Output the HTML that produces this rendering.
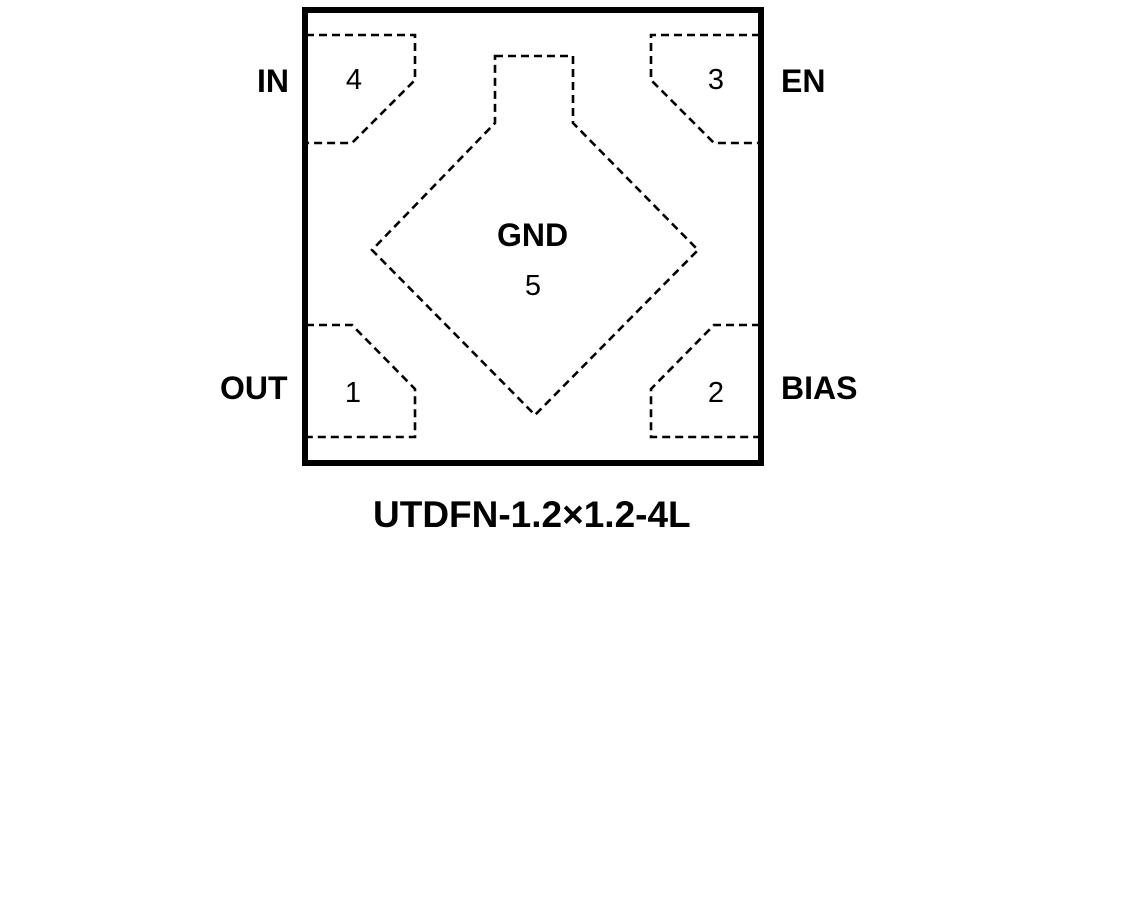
<!DOCTYPE html>
<html><head><style>html,body{margin:0;padding:0;background:#fff;}</style></head>
<body>
<svg width="1132" height="916" xmlns="http://www.w3.org/2000/svg" font-family="Liberation Sans, Arial, sans-serif">
<rect x="0" y="0" width="1132" height="916" fill="#fff"/>
<g fill="none" stroke="#000" stroke-width="2.6" stroke-dasharray="8,5">
<polyline points="306,35 415,35 415,80 352,143 306,143"/>
<polyline points="760,35 651,35 651,80 714,143 760,143"/>
<polyline points="306,325 352,325 415,389 415,437 306,437"/>
<polyline points="760,325 714,325 651,389 651,437 760,437"/>
<polygon points="495,56 573,56 573,123 698,250 535,415 372,250 495,123"/>
</g>
<rect x="305" y="10" width="456" height="453" fill="none" stroke="#000" stroke-width="6"/>
<g font-size="29" text-anchor="middle">
<text x="354" y="89">4</text>
<text x="716" y="89">3</text>
<text x="353" y="402">1</text>
<text x="716" y="402">2</text>
<text x="533" y="295">5</text>
</g>
<g font-size="32" font-weight="bold">
<text x="497" y="246">GND</text>
<text x="257" y="92">IN</text>
<text x="781" y="92">EN</text>
<text x="220" y="399">OUT</text>
<text x="781" y="399">BIAS</text>
<text x="373" y="527" font-size="37">UTDFN-1.2×1.2-4L</text>
</g>
</svg>
</body></html>
